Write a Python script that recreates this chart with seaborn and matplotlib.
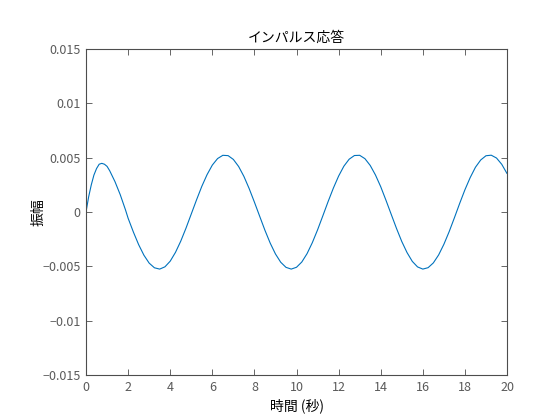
import matplotlib
matplotlib.use("Agg")
import matplotlib.pyplot as plt
import pandas as pd
import seaborn as sns

# values (time in s, amplitude)
time_s = [
    0.0, 0.125, 0.25, 0.375, 0.5, 0.625, 0.75, 0.875, 1.0, 1.125, 1.25, 1.375,
    1.5, 1.625, 1.75, 1.875,
    2.0, 2.25, 2.5, 2.75, 3.0, 3.25, 3.5, 3.75, 4.0, 4.25, 4.5, 4.75,
    5.0, 5.25, 5.5, 5.75, 6.0, 6.25, 6.5, 6.75, 7.0, 7.25, 7.5, 7.75,
    8.0, 8.25, 8.5, 8.75, 9.0, 9.25, 9.5, 9.75, 10.0, 10.25, 10.5, 10.75,
    11.0, 11.25, 11.5, 11.75, 12.0, 12.25, 12.5, 12.75, 13.0, 13.25, 13.5, 13.75,
    14.0, 14.25, 14.5, 14.75, 15.0, 15.25, 15.5, 15.75, 16.0, 16.25, 16.5, 16.75,
    17.0, 17.25, 17.5, 17.75, 18.0, 18.25, 18.5, 18.75, 19.0, 19.25, 19.5, 19.75,
    20.0,
]
amplitude = [
    0.0, 0.0014, 0.0025, 0.0034, 0.0040, 0.0044, 0.00448, 0.0044, 0.0042, 0.0038,
    0.0033, 0.0028, 0.0022, 0.0016, 0.0009, 0.0002,
    -0.00057, -0.00184, -0.00300, -0.00397, -0.00470, -0.00513, -0.00525, -0.00504,
    -0.00452, -0.00371, -0.00268, -0.00148, -0.00018, 0.00112, 0.00236, 0.00344,
    0.00432, 0.00492, 0.00522, 0.00519, 0.00484, 0.00419, 0.00328, 0.00216,
    0.00091, -0.00039, -0.00168, -0.00286, -0.00386, -0.00462, -0.00509, -0.00525,
    -0.00508, -0.00460, -0.00383, -0.00282, -0.00164, -0.00035, 0.00096, 0.00220,
    0.00331, 0.00422, 0.00486, 0.00520, 0.00522, 0.00491, 0.00429, 0.00341,
    0.00233, 0.00108, -0.00022, -0.00151, -0.00271, -0.00373, -0.00454, -0.00505,
    -0.00525, -0.00512, -0.00468, -0.00395, -0.00297, -0.00181, -0.00053, 0.00079,
    0.00205, 0.00317, 0.00412, 0.00479, 0.00518, 0.00523, 0.00497, 0.00439,
    0.00354,
]

x_ticks = [0, 2, 4, 6, 8, 10, 12, 14, 16, 18, 20]
y_ticks = [-0.015, -0.01, -0.005, 0, 0.005, 0.01, 0.015]
y_tick_labels = ["\u22120.015", "\u22120.01", "\u22120.005", "0", "0.005", "0.01", "0.015"]

sns.set_theme(style="white")
plt.rcParams["font.family"] = ["Noto Sans CJK JP", "DejaVu Sans"]

df = pd.DataFrame({"time": time_s, "amp": amplitude})

fig = plt.figure(figsize=(5.6, 4.2), dpi=100)
ax = fig.add_axes([0.1536, 0.107, 0.7518, 0.7763])
sns.lineplot(data=df, x="time", y="amp", color="#0072BD", linewidth=0.8, ax=ax)

ax.set_xlim(0, 20)
ax.set_ylim(-0.015, 0.015)
ax.set_xticks(x_ticks)
ax.set_xticklabels([str(v) for v in x_ticks])
ax.set_yticks(y_ticks)
ax.set_yticklabels(y_tick_labels)

grey = "#4d4d4d"
for side in ["left", "right", "top", "bottom"]:
    ax.spines[side].set_color(grey)
    ax.spines[side].set_linewidth(0.8)
ax.tick_params(direction="in", length=4, width=0.6, color=grey, labelcolor="#5a5a5a",
               labelsize=9, top=True, right=True, bottom=True, left=True, pad=4)

ax.set_xlabel("時間 (秒)", fontsize=10, color="black")
ax.set_ylabel("振幅", fontsize=10, color="black")
ax.xaxis.set_label_coords(0.5, -0.071)
ax.yaxis.set_label_coords(-0.095, 0.5)
ax.set_title("インパルス応答", fontsize=10, color="black", pad=5)

fig.savefig("out.png", dpi=100)
